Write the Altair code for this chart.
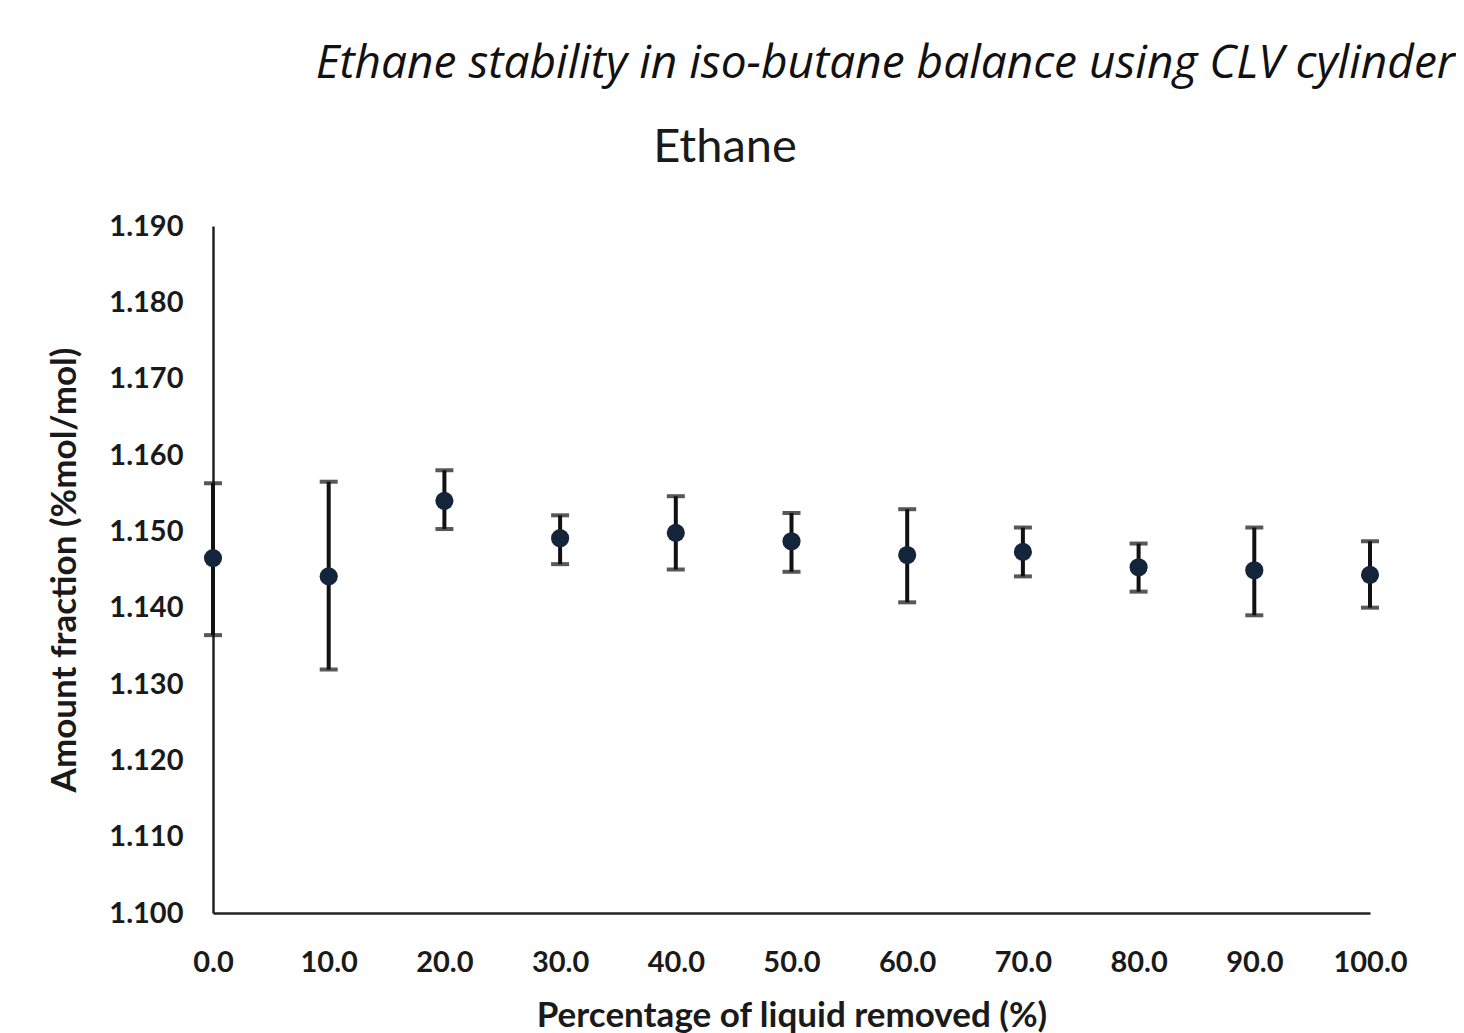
import altair as alt
import pandas as pd

pct = [0, 10, 20, 30, 40, 50, 60, 70, 80, 90, 100]
value = [1.1465, 1.1441, 1.1540, 1.1491, 1.1498, 1.1487, 1.1469, 1.1473, 1.1453, 1.1449, 1.1443]
upper = [1.1563, 1.1565, 1.1580, 1.1521, 1.1546, 1.1524, 1.1529, 1.1505, 1.1484, 1.1505, 1.1487]
lower = [1.1364, 1.1319, 1.1503, 1.1457, 1.1450, 1.1447, 1.1407, 1.1441, 1.1421, 1.1390, 1.1400]

x_ticks = [0, 10, 20, 30, 40, 50, 60, 70, 80, 90, 100]
y_ticks = [1.10, 1.11, 1.12, 1.13, 1.14, 1.15, 1.16, 1.17, 1.18, 1.19]

header = "Ethane stability in iso-butane balance using CLV cylinder"
subtitle = "Ethane"
x_title = "Percentage of liquid removed (%)"
y_title = "Amount fraction (%mol/mol)"

df = pd.DataFrame({"pct": pct, "value": value, "upper": upper, "lower": lower})

AX_FONT = "Lato"
x_enc = alt.X("pct:Q", scale=alt.Scale(domain=[0, 100], nice=False, zero=False),
              axis=alt.Axis(values=x_ticks, format=".1f", title=x_title, grid=False,
                            ticks=False, tickSize=0, labelPadding=35, titlePadding=21,
                            domainColor="#222222", domainWidth=2.5,
                            labelFont=AX_FONT, labelFontSize=29, labelFontWeight="bold",
                            labelColor="#1a1a1a", titleFont=AX_FONT, titleFontSize=35,
                            titleFontWeight="bold", titleColor="#1a1a1a", labelFlush=False))
y_scale = alt.Scale(domain=[1.10, 1.19], nice=False, zero=False)
y_axis = alt.Axis(values=y_ticks, format=".3f", title=y_title, grid=False, ticks=False,
                  tickSize=0, labelPadding=30, titlePadding=26,
                  domainColor="#222222", domainWidth=2.5,
                  labelFont=AX_FONT, labelFontSize=29, labelFontWeight="bold",
                  labelColor="#1a1a1a", titleFont=AX_FONT, titleFontSize=35,
                  titleFontWeight="bold", titleColor="#1a1a1a", labelFlush=False)

base = alt.Chart(df)

bars = base.mark_rule(color="#111111", strokeWidth=4).encode(
    x=x_enc,
    y=alt.Y("lower:Q", scale=y_scale, axis=y_axis),
    y2="upper:Q",
)
cap_hi = base.mark_tick(color="#111111", thickness=4, size=18, orient="horizontal").encode(
    x="pct:Q", y="upper:Q")
cap_lo = base.mark_tick(color="#111111", thickness=4, size=18, orient="horizontal").encode(
    x="pct:Q", y="lower:Q")
pts = base.mark_circle(color="#14243a", opacity=1, size=330).encode(x="pct:Q", y="value:Q")

head = alt.Chart(pd.DataFrame({"t": [header]})).mark_text(
    font="Open Sans", fontSize=46, fontStyle="italic", align="right", baseline="alphabetic",
    color="#111111").encode(text="t:N", x=alt.value(1242), y=alt.value(-148))

sub = alt.Chart(pd.DataFrame({"t": [subtitle]})).mark_text(
    font="Lato", fontSize=47, align="center", baseline="alphabetic",
    color="#1a1a1a").encode(text="t:N", x=alt.value(512), y=alt.value(-64))

chart = alt.layer(bars, cap_hi, cap_lo, pts, head, sub).properties(
    width=1157, height=687,
    background="white",
    padding={"left": 205, "top": 218, "right": 86, "bottom": 125},
    autosize=alt.AutoSizeParams(type="none"),
).configure_view(strokeWidth=0, stroke=None)

chart.save("out.html", embed_options={"renderer": "svg", "actions": False})
